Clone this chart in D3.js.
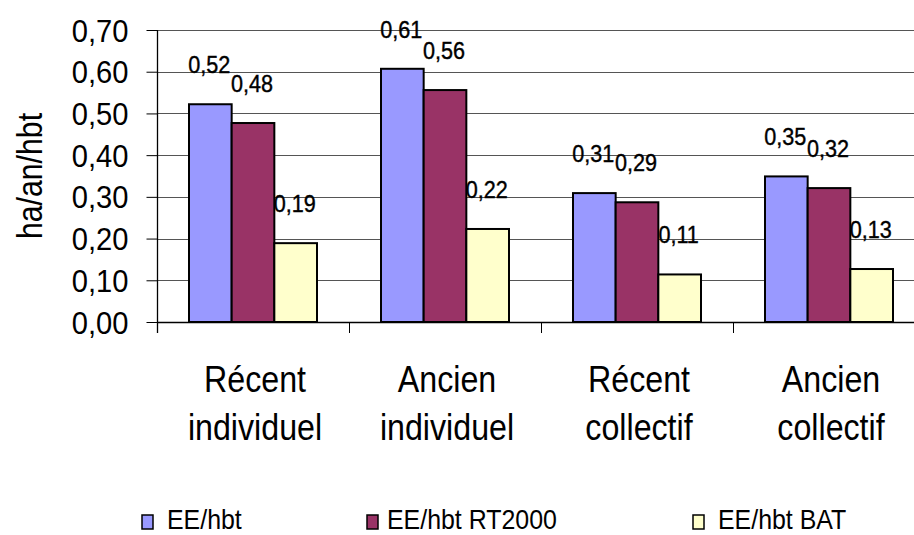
<!DOCTYPE html>
<html>
<head>
<meta charset="utf-8">
<script src="https://cdn.jsdelivr.net/npm/d3@7"></script>
<style>
  html, body { margin: 0; padding: 0; background: #fff; }
  svg { display: block; font-family: "Liberation Sans", Arial, sans-serif; }
</style>
</head>
<body>
<svg id="chart" width="914" height="535"></svg>
<script>
// ---- data ----
const categories = [["Récent", "individuel"], ["Ancien", "individuel"], ["Récent", "collectif"], ["Ancien", "collectif"]];
const seriesNames = ["EE/hbt", "EE/hbt RT2000", "EE/hbt BAT"];
const eeHbt = [0.522, 0.607, 0.309, 0.349];
const eeHbtRT2000 = [0.477, 0.556, 0.287, 0.321];
const eeHbtBAT = [0.189, 0.223, 0.114, 0.127];
const yTicks = [0, 0.1, 0.2, 0.3, 0.4, 0.5, 0.6, 0.7];
const yTitle = "ha/an/hbt";
const colors = ["#9999FF", "#993366", "#FFFFCC"];

const seriesValues = [eeHbt, eeHbtRT2000, eeHbtBAT];
const rows = categories.map((c, i) => ({ idx: i, label: c, values: seriesValues.map(s => s[i]) }));

const loc = d3.formatLocale({ decimal: ",", thousands: " ", grouping: [3], currency: ["", " €"] });
const fmt = loc.format(".2f");

const svg = d3.select("#chart");
const plotLeft = 157, plotTop = 30, plotBottom = 322, catW = 192;

const y = d3.scaleLinear().domain([0, 0.7]).range([plotBottom, plotTop]);
const x0 = d3.scaleBand().domain(d3.range(categories.length)).range([plotLeft, plotLeft + catW * categories.length]).padding(0);
const x1 = d3.scaleBand().domain(d3.range(seriesNames.length)).range([32, 160]).padding(0);

// gridlines
svg.append("g").selectAll("line").data(yTicks.filter(t => t > 0)).join("line")
  .attr("x1", plotLeft).attr("x2", 914)
  .attr("y1", d => Math.round(y(d)) + 0.5).attr("y2", d => Math.round(y(d)) + 0.5)
  .attr("stroke", "#555").attr("stroke-width", 1);

// y axis
const yAxis = d3.axisLeft(y).tickValues(yTicks).tickSize(11).tickPadding(0).tickFormat(fmt);
const gy = svg.append("g").attr("transform", `translate(${plotLeft + 0.5},0)`).call(yAxis);
gy.select(".domain").remove();
gy.selectAll(".tick line").attr("stroke", "#000");
gy.selectAll(".tick text")
  .attr("x", null).attr("dy", null)
  .attr("transform", "translate(-29,11) scale(0.94,1)")
  .attr("font-size", 31).attr("font-family", "Liberation Sans, Arial, sans-serif")
  .attr("fill", "#000");
// vertical axis line
svg.append("line").attr("x1", plotLeft + 0.5).attr("x2", plotLeft + 0.5)
  .attr("y1", plotTop).attr("y2", plotBottom + 11).attr("stroke", "#000").attr("stroke-width", 1.3);
// x axis line
svg.append("line").attr("x1", plotLeft).attr("x2", 914)
  .attr("y1", plotBottom + 0.5).attr("y2", plotBottom + 0.5).attr("stroke", "#000").attr("stroke-width", 1.3);
// category ticks
svg.append("g").selectAll("line").data(d3.range(categories.length + 1)).join("line")
  .attr("x1", d => plotLeft + d * catW + 0.5).attr("x2", d => plotLeft + d * catW + 0.5)
  .attr("y1", plotBottom).attr("y2", plotBottom + 11).attr("stroke", "#000").attr("stroke-width", 1);

// bars
const groups = svg.append("g").selectAll("g").data(rows).join("g")
  .attr("transform", d => `translate(${x0(d.idx)},0)`);
groups.selectAll("rect").data(d => d.values.map((v, k) => ({ v, k }))).join("rect")
  .attr("x", d => x1(d.k)).attr("width", x1.bandwidth())
  .attr("y", d => y(d.v)).attr("height", d => y(0) - y(d.v))
  .attr("fill", d => colors[d.k]).attr("stroke", "#000").attr("stroke-width", 2);
// value labels
groups.selectAll("text").data(d => d.values.map((v, k) => ({ v, k }))).join("text")
  .attr("transform", d => `translate(${x1(d.k) + x1.bandwidth() / 2 - 1},${y(d.v) - 31}) scale(0.9,1)`)
  .attr("text-anchor", "middle").attr("font-size", 24).attr("fill", "#000")
  .attr("stroke", "#000").attr("stroke-width", 0.4)
  .text(d => fmt(d.v));

// category labels
const catG = svg.append("g").selectAll("g").data(rows).join("g");
catG.each(function (d) {
  const g = d3.select(this);
  const cx = x0(d.idx) + catW / 2 + 2;
  d.label.forEach((line, li) => {
    g.append("text")
      .attr("transform", `translate(${cx},${392 + li * 48}) scale(0.87,1)`)
      .attr("text-anchor", "middle").attr("font-size", 37).attr("fill", "#000")
      .text(line);
  });
});

// y title
svg.append("text")
  .attr("transform", `translate(42,176) rotate(-90) scale(0.84,1)`)
  .attr("text-anchor", "middle").attr("font-size", 36).attr("fill", "#000")
  .text(yTitle);

// legend
const legendX = [142, 367, 693];
const legendTextX = [167, 387, 718];
const leg = svg.append("g").selectAll("g").data(seriesNames).join("g");
leg.append("rect")
  .attr("x", (d, i) => legendX[i]).attr("y", 515).attr("width", 11).attr("height", 14)
  .attr("fill", (d, i) => colors[i]).attr("stroke", "#000").attr("stroke-width", 1.5);
leg.append("text")
  .attr("transform", (d, i) => `translate(${legendTextX[i]},529) scale(0.89,1)`)
  .attr("font-size", 28).attr("fill", "#000")
  .text(d => d);
</script>
</body>
</html>
